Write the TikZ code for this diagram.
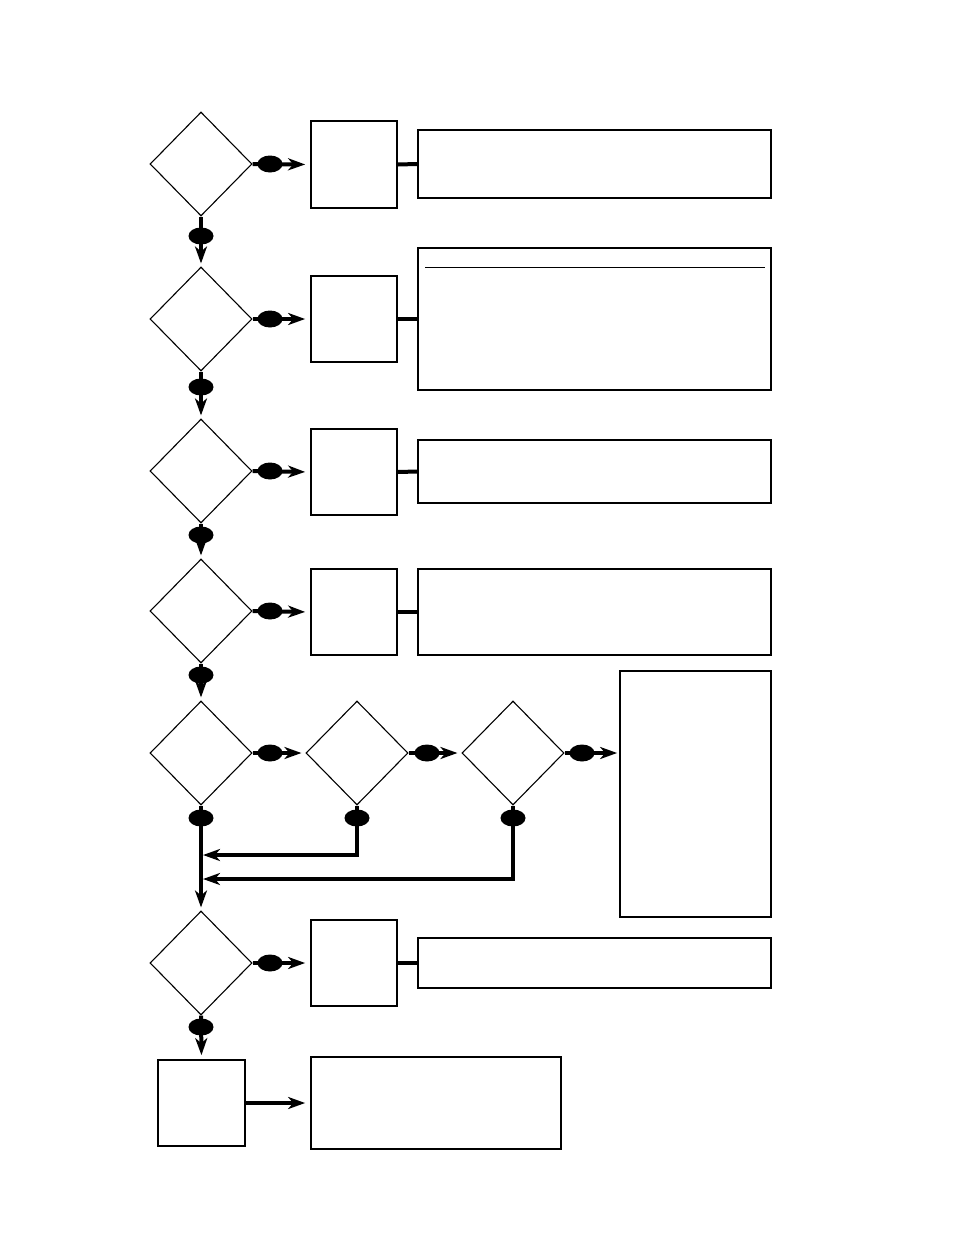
\documentclass[tikz,border=0pt]{standalone}
\usetikzlibrary{shapes.geometric,arrows.meta}
\begin{document}
\begin{tikzpicture}[x=1pt,y=-1pt,
  dia/.style={draw,line width=1.1pt,shape=diamond,minimum width=102pt,minimum height=104pt,inner sep=0pt},
  sbox/.style={draw,line width=1.7pt,rectangle,inner sep=0pt},
  oval/.style={fill=black,ellipse,minimum width=25pt,minimum height=17pt,inner sep=0pt},
  conn/.style={line width=4pt,-{Stealth[length=17pt,width=12pt,inset=5pt]}},
  link/.style={line width=4pt}]
\useasboundingbox (0,0) rectangle (954,1235);
% diamonds
\node[dia] (d1) at (201,164) {};
\node[dia] (d2) at (201,319) {};
\node[dia] (d3) at (201,471) {};
\node[dia] (d4) at (201,611) {};
\node[dia] (d5) at (201,753) {};
\node[dia] (d5b) at (357,753) {};
\node[dia] (d5c) at (513,753) {};
\node[dia] (d6) at (201,963) {};
% small boxes
\node[sbox,minimum width=86pt,minimum height=87pt] (s1) at (354,164.5) {};
\node[sbox,minimum width=86pt,minimum height=86pt] (s2) at (354,319) {};
\node[sbox,minimum width=86pt,minimum height=86pt] (s3) at (354,472) {};
\node[sbox,minimum width=86pt,minimum height=86pt] (s4) at (354,612) {};
\node[sbox,minimum width=86pt,minimum height=86pt] (s6) at (354,963) {};
\node[sbox,minimum width=87pt,minimum height=86pt] (fin) at (201.5,1103) {};
% big boxes
\node[sbox,minimum width=353pt,minimum height=68pt] (b1) at (594.5,164) {};
\node[sbox,minimum width=353pt,minimum height=142pt] (b2) at (594.5,319) {};
\node[sbox,minimum width=353pt,minimum height=63pt] (b3) at (594.5,471.5) {};
\node[sbox,minimum width=353pt,minimum height=86pt] (b4) at (594.5,612) {};
\node[sbox,minimum width=151pt,minimum height=246pt] (b5) at (695.5,794) {};
\node[sbox,minimum width=353pt,minimum height=50pt] (b6) at (594.5,963) {};
\node[sbox,minimum width=250pt,minimum height=92pt] (bf) at (436,1103) {};
\draw[line width=1pt] (425,267) -- (765,267);
% box links
\foreach \i in {1,2,3,4,6}{\draw[link] (s\i.east) -- (b\i.west);}
% horizontal arrows
\draw[conn,shorten >=5pt] (d1.east) -- (s1.west);
\draw[conn,shorten >=5pt] (d2.east) -- (s2.west);
\draw[conn,shorten >=5pt] (d3.east) -- (s3.west);
\draw[conn,shorten >=5pt] (d4.east) -- (s4.west);
\draw[conn,shorten >=4pt] (d5.east) -- (d5b.west);
\draw[conn,shorten >=4pt] (d5b.east) -- (d5c.west);
\draw[conn,shorten >=2pt] (d5c.east) -- (d5c.east -| b5.west);
\draw[conn,shorten >=5pt] (d6.east) -- (s6.west);
\draw[conn,shorten >=5pt] (fin.east) -- (bf.west);
% vertical arrows
\draw[conn,shorten >=3pt] (d1.south) -- (d2.north);
\draw[conn,shorten >=3pt] (d2.south) -- (d3.north);
\draw[conn,shorten >=3pt] (d3.south) -- (d4.north);
\draw[conn,shorten >=3pt] (d4.south) -- (d5.north);
\draw[conn,shorten >=3pt] (d5.south) -- (d6.north);
\draw[conn,shorten >=4pt] (d6.south) -- (fin.north);
% loop backs
\coordinate (r1) at (203,855);
\coordinate (r2) at (203,879);
\draw[conn] (d5b.south) |- (r1);
\draw[conn] (d5c.south) |- (r2);
% ovals
\node[oval] (o1) at (270,164) {};
\node[oval] (o2) at (270,319) {};
\node[oval] (o3) at (270,471) {};
\node[oval] (o4) at (270,611) {};
\node[oval] (o5) at (270,753) {};
\node[oval] (o5b) at (427,753) {};
\node[oval] (o5c) at (582,753) {};
\node[oval] (o6) at (270,963) {};
\node[oval] (v1) at (201,236) {};
\node[oval] (v2) at (201,387) {};
\node[oval] (v3) at (201,535) {};
\node[oval] (v4) at (201,675) {};
\node[oval] (v5) at (201,818) {};
\node[oval] (v5b) at (357,818) {};
\node[oval] (v5c) at (513,818) {};
\node[oval] (v6) at (201,1027) {};
\end{tikzpicture}
\end{document}
